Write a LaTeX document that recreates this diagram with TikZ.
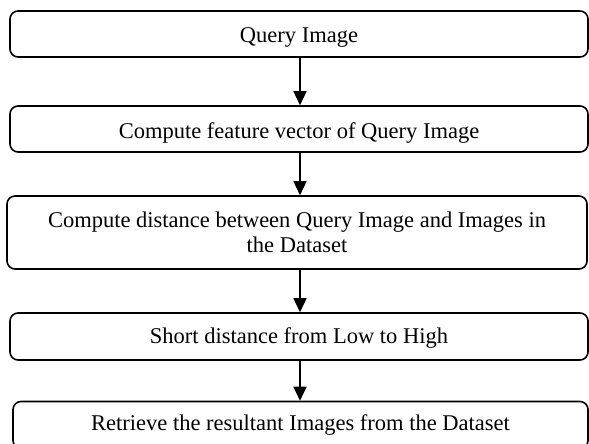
\documentclass[tikz,border=0pt]{standalone}
\usepackage{fontspec}
\setmainfont{Liberation Serif}
\usetikzlibrary{arrows.meta}
\begin{document}
\begin{tikzpicture}[x=1pt,y=-1pt,
  stepbox/.style={draw=black, line width=1.6pt, rounded corners=8pt, align=center,
    inner sep=0pt, font=\fontsize{22.5pt}{25pt}\selectfont},
  arr/.style={line width=1.6pt, -{Triangle[length=14pt,width=13pt]}}]
\clip (0,0) rectangle (589,444);
\fill[white] (0,0) rectangle (589,444);
\node[stepbox, minimum width=578pt, minimum height=46pt, text height=18pt, text depth=0pt] (b1) at (299,34) {Query Image};
\node[stepbox, minimum width=578pt, minimum height=46pt, text height=18pt, text depth=0pt] (b2) at (299,129) {Compute feature vector of Query Image};
\node[stepbox, minimum width=580pt, minimum height=73pt] (b3) at (297,232.5) {Compute distance between Query Image and Images in\\the Dataset};
\node[stepbox, minimum width=578pt, minimum height=47pt, text height=15.4pt, text depth=2.4pt] (b4) at (299,336.5) {Short distance from Low to High};
\node[stepbox, minimum width=575pt, minimum height=47pt] (b5) at (300.5,425) {Retrieve the resultant Images from the Dataset};
\coordinate (ax) at (300,0);
\draw[arr] (ax |- b1.south) -- (ax |- b2.north);
\draw[arr] (ax |- b2.south) -- (ax |- b3.north);
\draw[arr] (ax |- b3.south) -- (ax |- b4.north);
\draw[arr] (ax |- b4.south) -- (ax |- b5.north);
\end{tikzpicture}
\end{document}
